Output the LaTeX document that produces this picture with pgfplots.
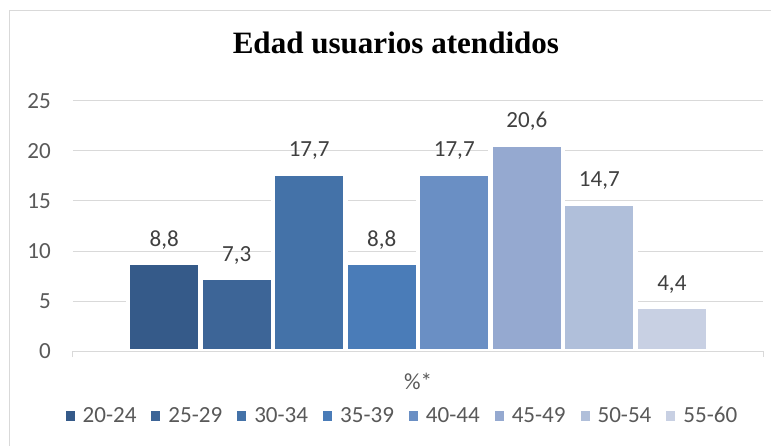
\documentclass[border=0pt]{standalone}
\usepackage{fontspec}
\setmainfont{Carlito}
\newfontfamily\titlefont{Liberation Serif}
\usepackage{pgfplots}
\pgfplotsset{compat=1.18}

\definecolor{gridgray}{HTML}{D9D9D9}
\definecolor{ticktext}{HTML}{595959}
\definecolor{labtext}{HTML}{404040}
\definecolor{cA}{HTML}{355A89}
\definecolor{cB}{HTML}{3D6597}
\definecolor{cC}{HTML}{4472A8}
\definecolor{cD}{HTML}{4A7CB8}
\definecolor{cE}{HTML}{6A8FC4}
\definecolor{cF}{HTML}{95A9D0}
\definecolor{cG}{HTML}{B0BFDA}
\definecolor{cH}{HTML}{C8D0E3}

\newcommand{\chartfont}{\fontsize{17.3}{20}\selectfont}

\begin{document}
\begin{tikzpicture}
\useasboundingbox (-54.75pt,-71.25pt) rectangle (523.5pt,263.25pt);
\begin{axis}[
    at={(0,0)}, anchor=south west,
    scale only axis, width=517.5pt, height=187.5pt,
    xmin=-1, xmax=1, ymin=0, ymax=25,
    ytick={0,5,...,25},
    xtick=\empty,
    extra x ticks={0}, extra x tick labels={\%*},
    extra x tick style={major tick length=0pt,
        xticklabel style={anchor=base, inner sep=0pt, yshift=-28.5pt}},
    axis line style={draw=none},
    ymajorgrids, grid style={gridgray, line width=0.75pt},
    ytick style={draw=none},
    tick label style={font=\chartfont, color=ticktext},
    yticklabel style={anchor=east, inner sep=0pt, xshift=-16.5pt,
        /pgf/number format/assume math mode=true},
    title={Edad usuarios atendidos},
    title style={at={(0.468,1.156)}, anchor=base,
        font=\titlefont\bfseries\fontsize{23.3}{28}\selectfont},
    ybar=0pt, bar width=54.4pt,
    every axis plot/.append style={draw=white, line width=3.4pt},
    nodes near coords={\pgfmathprintnumber[fixed, fixed zerofill, precision=1,
        use comma, assume math mode=true]{\pgfplotspointmeta}},
    every node near coord/.append style={anchor=base, yshift=12.75pt,
        font=\chartfont, color=labtext},
    legend columns=8,
    legend style={at={(0.476,-0.26)}, anchor=center, draw=none,
        font=\chartfont, text=ticktext,
        nodes={inner sep=0pt},
        /tikz/every odd column/.append style={column sep=6pt},
        /tikz/every even column/.append style={column sep=11.25pt}},
    legend image code/.code={\fill[#1, draw=none] (0pt,-3.4pt) rectangle (6.75pt,3.4pt);},
    clip=false,
]
\addplot[fill=cA] coordinates {(0,8.8)};
\addplot[fill=cB] coordinates {(0,7.3)};
\addplot[fill=cC] coordinates {(0,17.7)};
\addplot[fill=cD] coordinates {(0,8.8)};
\addplot[fill=cE] coordinates {(0,17.7)};
\addplot[fill=cF] coordinates {(0,20.6)};
\addplot[fill=cG] coordinates {(0,14.7)};
\addplot[fill=cH] coordinates {(0,4.4)};
\legend{20-24,25-29,30-34,35-39,40-44,45-49,50-54,55-60}
% base line and the two end ticks
\draw[gridgray, line width=0.75pt]
    ([yshift=-4.5pt]axis cs:-1,0) -- (axis cs:-1,0) -- (axis cs:1,0) -- ([yshift=-4.5pt]axis cs:1,0);
\end{axis}
% chart frame
\draw[gridgray, line width=0.75pt] (-47.25pt,-71.25pt) -- (-47.25pt,255pt) -- (523.5pt,255pt);
\end{tikzpicture}
\end{document}
